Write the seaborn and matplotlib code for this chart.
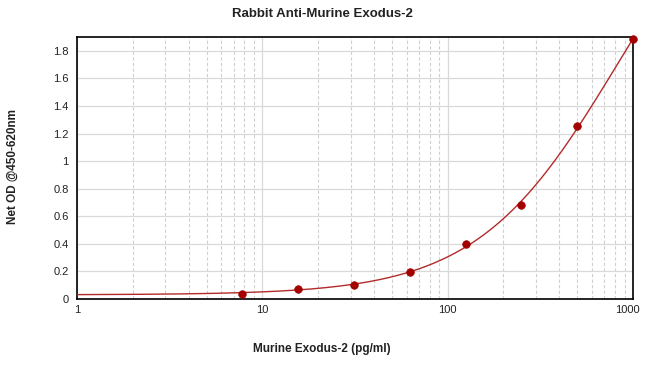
import numpy as np
import pandas as pd
import matplotlib
matplotlib.use("Agg")
import matplotlib.pyplot as plt
import matplotlib.transforms as mtransforms
from matplotlib.ticker import LogLocator, FixedLocator, FuncFormatter
import seaborn as sns

# ---- data ----
concentration = [7.8, 15.6, 31.25, 62.5, 125, 250, 500, 1000]
net_od = [0.037, 0.075, 0.104, 0.196, 0.398, 0.684, 1.251, 1.884]
x_ticks = [1, 10, 100, 1000]
x_tick_labels = ["1", "10", "100", "1000"]
y_ticks = [0, 0.2, 0.4, 0.6, 0.8, 1.0, 1.2, 1.4, 1.6, 1.8]
y_tick_labels = ["0", "0.2", "0.4", "0.6", "0.8", "1", "1.2", "1.4", "1.6", "1.8"]
title = "Rabbit Anti-Murine Exodus-2"
x_label = "Murine Exodus-2 (pg/ml)"
y_label = "Net OD @450-620nm"

# ---- 4-parameter logistic fit of the points (numpy Levenberg-Marquardt) ----
xd = np.array(concentration, float)
yd = np.array(net_od, float)

def f4(p, x):
    a, d, lc, b = p
    return d + (a - d) / (1.0 + (x / np.exp(lc)) ** b)

p = np.array([0.03, 3.0, np.log(700.0), 1.2])
lam = 1e-2
for _ in range(400):
    r = yd - f4(p, xd)
    J = np.zeros((len(xd), 4))
    for k in range(4):
        dp = np.zeros(4); h = 1e-6 * max(1.0, abs(p[k])); dp[k] = h
        J[:, k] = (f4(p + dp, xd) - f4(p - dp, xd)) / (2 * h)
    A = J.T @ J
    g = J.T @ r
    step = np.linalg.solve(A + lam * np.diag(np.diag(A) + 1e-12), g)
    pn = p + step
    if np.all(np.isfinite(pn)) and np.sum((yd - f4(pn, xd)) ** 2) < np.sum(r ** 2):
        p = pn; lam *= 0.5
    else:
        lam *= 4.0

xc = np.logspace(0, np.log10(1000), 400)
curve = pd.DataFrame({"x": xc, "y": f4(p, xc)})
pts = pd.DataFrame({"x": concentration, "y": net_od})

# ---- figure ----
sns.set_style("white")
plt.rcParams["font.family"] = ["Liberation Sans", "DejaVu Sans"]
fig = plt.figure(figsize=(6.5, 3.72), dpi=100)
ax = fig.add_axes([77 / 650, 1 - 299 / 372, (633 - 77) / 650, (299 - 37) / 372])

ax.set_xscale("log")
ax.set_xlim(1, 1000)
ax.set_ylim(0, 1.9)

# grid
ax.xaxis.set_major_locator(FixedLocator(x_ticks))
ax.xaxis.set_minor_locator(LogLocator(base=10, subs=np.arange(2, 10)))
ax.xaxis.set_major_formatter(FuncFormatter(lambda v, pos: x_tick_labels[x_ticks.index(round(v))] if round(v) in x_ticks else ""))
ax.xaxis.set_minor_formatter(FuncFormatter(lambda v, pos: ""))
ax.set_yticks(y_ticks)
ax.set_yticklabels(y_tick_labels)
ax.grid(which="major", axis="both", color="#d9d9d9", linewidth=0.9, linestyle="-")
ax.grid(which="minor", axis="x", color="#d0d0d0", linewidth=0.8, linestyle=(0, (3, 2)))
ax.set_axisbelow(True)

sns.lineplot(data=curve, x="x", y="y", ax=ax, color="#b22b2b", linewidth=1.0, zorder=3)
sns.scatterplot(data=pts, x="x", y="y", ax=ax, color="#a30000", s=30, edgecolor="#a30000",
                linewidth=0.5, zorder=4, clip_on=False)

for s in ax.spines.values():
    s.set_color("black")
    s.set_linewidth(1.2)
    s.set_visible(True)

ax.tick_params(axis="both", which="both", length=0, labelsize=8, colors="#222222")
ax.tick_params(axis="x", pad=4)
ax.tick_params(axis="y", pad=6)
ax.set_xlabel("")
ax.set_ylabel("")

# keep the last x label inside, like the reference
fig.canvas.draw()
last = ax.get_xticklabels()[-1]
last.set_transform(last.get_transform() + mtransforms.ScaledTranslation(-6 / 100, 0, fig.dpi_scale_trans))

fig.text(322 / 650, 1 - 14 / 372, title, ha="center", va="center", fontsize=9.5, fontweight="bold", color="#222222")
fig.text(322 / 650, 1 - 349 / 372, x_label, ha="center", va="center", fontsize=8.5, fontweight="bold", color="#222222")
fig.text(13 / 650, 1 - 166 / 372, y_label, ha="center", va="center", rotation=90, fontsize=8.5, fontweight="bold", color="#222222")

fig.savefig("out.png", dpi=100, facecolor="white")
